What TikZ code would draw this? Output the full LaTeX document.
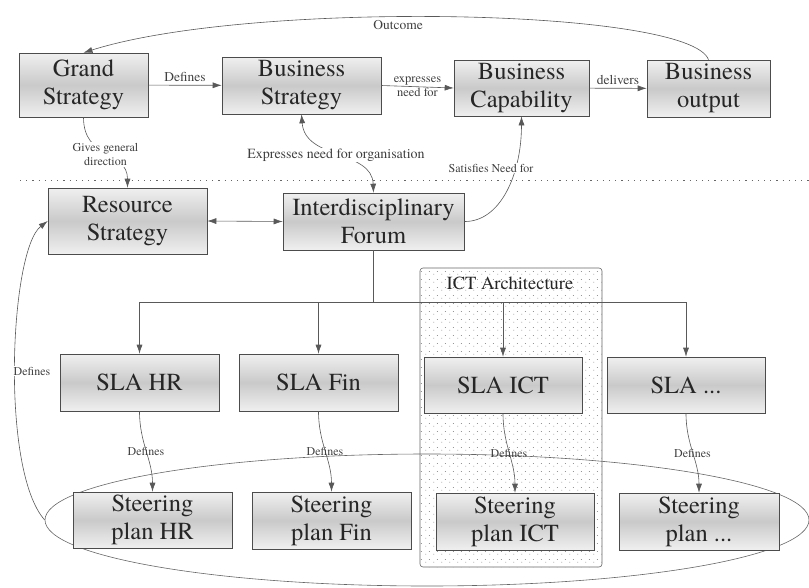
\documentclass[tikz,border=0pt]{standalone}
\usepackage{fontspec}
\newfontfamily\diagfont{TeX Gyre Termes}
\usetikzlibrary{arrows.meta,shapes.geometric,patterns.meta}

% sparse dot texture for the architecture group
\tikzdeclarepattern{
  name=sparsedots,
  type=uncolored,
  bottom left={(0pt,0pt)},
  top right={(8pt,8pt)},
  tile size={(8pt,8pt)},
  code={\pgfpathcircle{\pgfqpoint{2pt}{2pt}}{0.55pt}\pgfusepath{fill}
        \pgfpathcircle{\pgfqpoint{6pt}{5pt}}{0.5pt}\pgfusepath{fill}}
}

\tikzset{
  box/.style={draw=black!70, line width=0.6pt,
    top color=gray!12, bottom color=gray!12, middle color=gray!42,
    minimum width=159pt, minimum height=57pt, inner sep=2pt,
    align=center, text=black!85, font=\diagfont\fontsize{24.5}{28}\selectfont},
  line/.style={draw=black!65, line width=0.6pt},
  conn/.style={line, -{Latex[length=9pt,width=6pt]}},
  biconn/.style={line, {Latex[length=9pt,width=6pt]}-{Latex[length=9pt,width=6pt]}},
  lbl/.style={text=black!75, font=\diagfont\fontsize{13.5}{15}\selectfont, inner sep=1pt, align=center},
  wlbl/.style={lbl, fill=white},
  slbl/.style={lbl, font=\diagfont\fontsize{12}{13}\selectfont},
  group/.style={draw=black!60, line width=0.6pt, rounded corners=3pt,
    pattern=sparsedots, pattern color=black!50}
}

\begin{document}
\begin{tikzpicture}[x=1pt,y=-1pt]
\useasboundingbox (0,0) rectangle (809,587);

% divider between business and organisation levels
\draw[black!60, line width=0.8pt, dash pattern=on 1.2pt off 5pt] (20,180) -- (809,180);

% ICT architecture group
\node[group, minimum width=182pt, minimum height=299pt, inner sep=0pt] (ictarch) at (511,417.5) {};
\node[text=black!85, font=\diagfont\fontsize{18.5}{20}\selectfont] (icttitle) at (510,283) {ICT Architecture};

% loop around the steering plans
\node[draw=black!60, line width=0.6pt, ellipse, minimum width=764pt, minimum height=132pt, inner sep=0pt] (loop) at (427,520) {};

% business level
\node[box, minimum width=129pt, minimum height=64pt] (gs) at (83.5,85) {Grand\\Strategy};
\node[box] (bs) at (301.5,85.5) {Business\\Strategy};
\node[box, minimum width=135pt, minimum height=56pt] (bc) at (521.5,88) {Business\\Capability};
\node[box, minimum width=123pt] (bo) at (708.5,88.5) {Business\\output};

% organisation level
\node[box, minimum height=66pt] (rs) at (127.5,221) {Resource\\Strategy};
\node[box, minimum width=181pt] (idf) at (373.5,221.5) {Interdisciplinary\\Forum};

% service level agreements
\node[box] (shr) at (139.5,382.5) {SLA HR};
\node[box] (sfin) at (318.5,382.5) {SLA Fin};
\node[box, minimum width=158pt, minimum height=56pt] (sict) at (503,385) {SLA ICT};
\node[box, minimum width=158pt, minimum height=56pt] (sdots) at (686,385) {SLA ...};

% steering plans
\node[box, minimum height=56pt] (phr) at (152.5,520) {Steering\\plan HR};
\node[box] (pfin) at (331.5,520.5) {Steering\\plan Fin};
\node[box, minimum width=158pt] (pict) at (515,521.5) {Steering\\plan ICT};
\node[box, minimum width=160pt] (pdots) at (699,521.5) {Steering\\plan ...};

% business chain
\draw[conn] (gs) -- node[lbl, above=2pt] {Defines} (bs);
\draw[conn] (bs.east) -- node[lbl, font=\diagfont\fontsize{12.5}{14}\selectfont] {expresses\\need for} (bc.west);
\draw[conn] (bc) -- node[lbl, above=2pt] {delivers} (bo);
\draw[conn] (bo.north) .. controls (690,8) and (250,0) .. (gs.north);
\node[lbl] (outcome) at (398,25) {Outcome};

% links between the levels
\draw[conn] (gs.south) .. controls (83.5,160) and (127.5,150) .. (rs.north)
  node[wlbl, pos=0.5, font=\diagfont\fontsize{12}{14}\selectfont] {Gives general\\direction};
\draw[biconn] (bs.south) .. controls (305,160) and (372,150) .. (idf.north);
\node[wlbl, font=\diagfont\fontsize{14}{15}\selectfont] (expr) at (336,155) {Expresses need for organisation};
\draw[conn] (idf.east) .. controls (500,222) and (521.5,175) .. (bc.south);
\node[wlbl, font=\diagfont\fontsize{12}{13}\selectfont] (satis) at (491,168) {Satisfies Need for};
\draw[biconn] (rs.east) -- (idf.west);

% forum distributes to the SLAs
\draw[line] (idf.south) -- (373.5,302) coordinate (hub);
\draw[conn] (hub) -| (shr.north);
\draw[conn] (hub) -| (sfin.north);
\draw[conn] (hub) -| (sict.north);
\draw[conn] (hub) -| (sdots.north);

% SLAs define the steering plans
\draw[conn] (shr.south) to[out=-90,in=90] node[slbl, pos=0.5] {Defines} (phr.north);
\draw[conn] (sfin.south) to[out=-90,in=90] node[slbl, pos=0.5] {Defines} (pfin.north);
\draw[conn] (sict.south) to[out=-90,in=90] node[slbl, pos=0.5] {Defines} (pict.north);
\draw[conn] (sdots.south) to[out=-90,in=90] node[slbl, pos=0.5] {Defines} (pdots.north);

% steering plans feed back into the resource strategy
\draw[conn] (loop.west) .. controls (0,470) and (10,250) .. (rs.west);
\node[wlbl, font=\diagfont\fontsize{12}{13}\selectfont] (backlbl) at (32,371) {Defines};
\end{tikzpicture}
\end{document}
